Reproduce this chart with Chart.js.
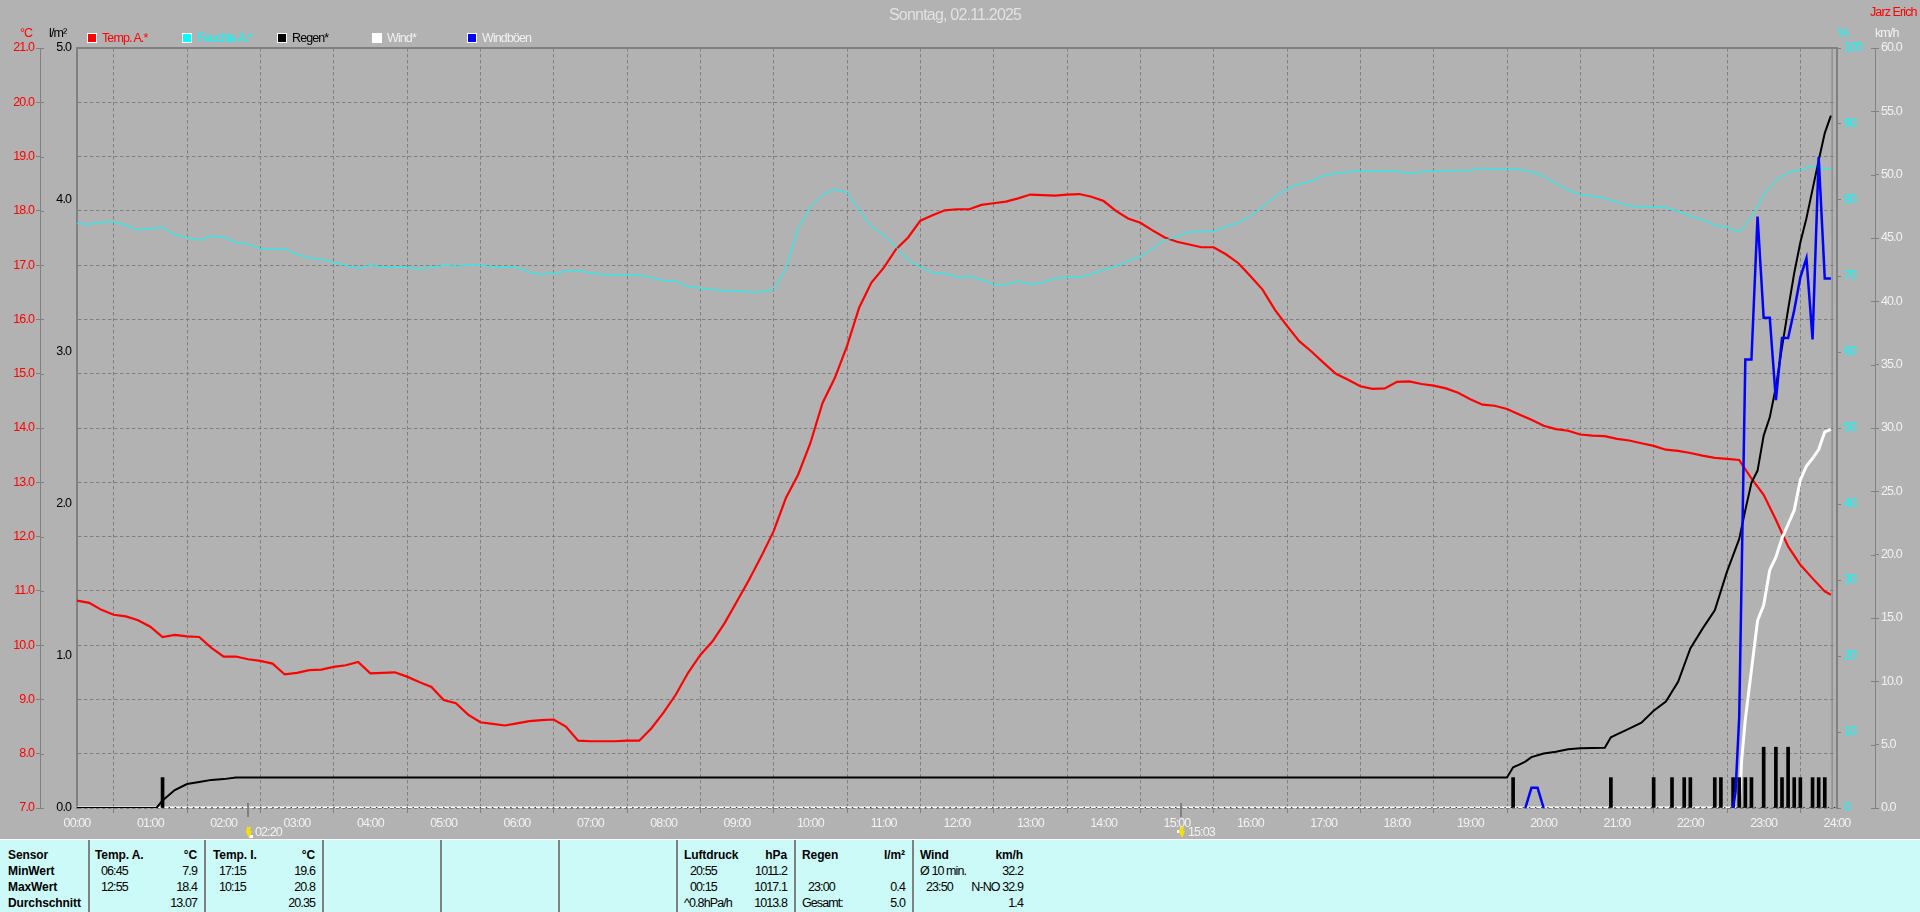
<!DOCTYPE html>
<html>
<head>
<meta charset="utf-8">
<title>Wetter 02.11.2025</title>
<script src="https://cdn.jsdelivr.net/npm/chart.js@4"></script>
<style>
    html, body { margin: 0; width: 1920px; height: 912px; overflow: hidden; background: #b2b2b2; }
    body { font-family: "Liberation Sans", sans-serif; font-size: 12.5px; letter-spacing: -0.9px; }
    canvas { position: absolute; left: 0; top: 0; }
    .lbl { position: absolute; line-height: 14px; white-space: nowrap; }
    .box { position: absolute; top: 33px; width: 8px; height: 8px; border: 1px solid #fff; }
    #stats { position: absolute; left: 0; top: 839px; width: 1920px; height: 73px; background: #ccfaf8; border-top: 1px solid #fff; box-sizing: border-box; color: #000; }
    .col { position: absolute; top: 0; height: 73px; box-sizing: border-box; border-right: 2px solid #808080; padding-top: 7px; }
    .row { display: flex; justify-content: space-between; height: 16px; line-height: 16px; white-space: nowrap; }
    .row b { font-size: 12px; letter-spacing: -0.1px; }
    .in { padding-left: 6px; }
</style>
</head>
<body>
<canvas id="chart" width="1920" height="839"></canvas>

<div class="lbl" style="left:889px;top:8px;font-size:16px;letter-spacing:-0.8px;color:#e2e2e2">Sonntag, 02.11.2025</div>
<div class="lbl" style="left:1870px;top:5px;color:#f00">Jarz Erich</div>
<div class="lbl" style="left:20px;top:26px;color:#f00">°C</div>
<div class="lbl" style="left:49px;top:26px;color:#000">l/m²</div>
<div class="lbl" style="left:1838px;top:26px;color:#0ff">%</div>
<div class="lbl" style="left:1875px;top:26px;color:#f2f2f2">km/h</div>
<div id="legend"></div>

<div id="stats"></div>

<script>
// 10 minute readings, 00:00 ... 23:50 and the last one at 23:55
const tempValues = [
    10.82, 10.78, 10.65, 10.56, 10.53, 10.46,
    10.34, 10.15, 10.19, 10.16, 10.15, 9.95,
    9.79, 9.79, 9.74, 9.71, 9.66, 9.46,
    9.49, 9.54, 9.55, 9.60, 9.63, 9.69,
    9.48, 9.49, 9.50, 9.42, 9.32, 9.23,
    8.99, 8.93, 8.72, 8.58, 8.55, 8.52,
    8.56, 8.60, 8.62, 8.63, 8.50, 8.24,
    8.23, 8.23, 8.23, 8.24, 8.24, 8.47,
    8.76, 9.09, 9.49, 9.82, 10.07, 10.41,
    10.81, 11.21, 11.64, 12.10, 12.71, 13.14,
    13.72, 14.46, 14.92, 15.51, 16.22, 16.68,
    16.95, 17.29, 17.51, 17.82, 17.92, 18.01,
    18.03, 18.03, 18.11, 18.14, 18.17, 18.23,
    18.30, 18.29, 18.28, 18.30, 18.31, 18.26,
    18.18, 18.00, 17.86, 17.78, 17.64, 17.51,
    17.43, 17.38, 17.33, 17.33, 17.20, 17.04,
    16.80, 16.55, 16.18, 15.88, 15.60, 15.41,
    15.20, 15.00, 14.89, 14.77, 14.72, 14.73,
    14.85, 14.86, 14.81, 14.78, 14.73, 14.65,
    14.53, 14.43, 14.41, 14.35, 14.25, 14.15,
    14.04, 13.98, 13.95, 13.88, 13.86, 13.85,
    13.80, 13.77, 13.72, 13.67, 13.60, 13.58,
    13.54, 13.49, 13.45, 13.43, 13.41, 13.07,
    12.77, 12.31, 11.82, 11.48, 11.23, 10.99, 10.93
];
const humidityValues = [
    76.9, 76.8, 77.1, 77.1, 76.7, 76.05,
    76.2, 76.4, 75.4, 75.1, 74.7, 75.3,
    75.1, 74.4, 74.2, 73.6, 73.6, 73.6,
    72.8, 72.4, 72.2, 71.8, 71.4, 71.0,
    71.4, 71.2, 71.2, 71.1, 71.0, 71.1,
    71.4, 71.3, 71.4, 71.4, 71.2, 71.2,
    71.1, 70.5, 70.2, 70.4, 70.6, 70.7,
    70.4, 70.2, 70.1, 70.1, 70.1, 69.8,
    69.4, 69.3, 68.6, 68.4, 68.2, 68.1,
    68.0, 67.9, 67.9, 68.2, 71.0, 76.25,
    79.1, 80.7, 81.4, 81.0, 78.7, 76.5,
    75.4, 73.8, 72.1, 71.2, 70.4, 70.3,
    69.9, 70.0, 69.5, 68.9, 68.9, 69.3,
    68.9, 69.1, 69.7, 69.8, 69.8, 70.3,
    70.8, 71.3, 72.0, 72.6, 73.6, 74.7,
    75.2, 75.8, 75.8, 75.9, 76.5, 77.0,
    77.9, 79.1, 80.4, 81.5, 82.1, 82.5,
    83.2, 83.5, 83.7, 83.8, 83.8, 83.9,
    83.8, 83.5, 83.7, 83.8, 83.9, 83.9,
    83.9, 84.2, 84.0, 84.0, 84.0, 83.7,
    83.1, 82.2, 81.3, 80.7, 80.5, 80.2,
    79.7, 79.25, 79.1, 79.1, 79.0, 78.5,
    77.9, 77.4, 76.7, 76.4, 75.75, 77.8,
    80.7, 82.6, 83.6, 84.0, 84.5, 84.1, 84.2
];

// rain sum line (l/m²)
const rainSumMinutes = [0, 65, 70, 80, 90, 100, 110, 120, 130, 1170, 1175, 1180, 1185, 1190, 1200, 1210, 1220, 1230, 1240, 1250, 1255, 1260, 1270, 1280, 1290, 1300, 1310, 1320, 1330, 1340, 1350, 1360, 1365, 1370, 1375, 1380, 1385, 1390, 1395, 1400, 1405, 1410, 1415, 1420, 1425, 1430, 1435];
const rainSumValues = [0, 0, 0.05, 0.118, 0.158, 0.171, 0.185, 0.19, 0.2, 0.2, 0.268, 0.285, 0.305, 0.335, 0.359, 0.37, 0.386, 0.393, 0.395, 0.397, 0.465, 0.485, 0.522, 0.561, 0.64, 0.70, 0.83, 1.05, 1.18, 1.30, 1.555, 1.77, 1.96, 2.14, 2.22, 2.45, 2.57, 2.77, 3.03, 3.28, 3.52, 3.72, 3.88, 4.07, 4.26, 4.44, 4.555];

// rain per 5 minutes (bars)
const rainBarMinutes = [70, 1175, 1255, 1290, 1305, 1315, 1320, 1340, 1345, 1355, 1360, 1365, 1370, 1380, 1390, 1395, 1400, 1405, 1410, 1420, 1425, 1430];
const rainBarValues = [0.2, 0.2, 0.2, 0.2, 0.2, 0.2, 0.2, 0.2, 0.2, 0.2, 0.2, 0.2, 0.2, 0.4, 0.4, 0.2, 0.4, 0.2, 0.2, 0.2, 0.2, 0.2];

const windMinutes = [0, 1360, 1362, 1365, 1370, 1375, 1380, 1385, 1390, 1395, 1400, 1405, 1410, 1415, 1420, 1425, 1430, 1435];
const windValues = [0, 0, 3.8, 7.0, 10.9, 14.8, 16.0, 18.8, 19.8, 21.3, 22.4, 23.5, 25.9, 27.0, 27.6, 28.3, 29.7, 29.9];

// null breaks the line, no gust between the two spells
const gustMinutes = [1185, 1190, 1195, 1200, 1201, 1355, 1357, 1360, 1365, 1370, 1375, 1380, 1385, 1390, 1395, 1400, 1405, 1410, 1415, 1420, 1425, 1430, 1435];
const gustValues = [0, 1.6, 1.6, 0, null, 0, 1.3, 7.2, 35.4, 35.4, 46.7, 38.7, 38.7, 32.2, 37.1, 37.1, 39.3, 41.9, 43.4, 37.0, 51.4, 41.8, 41.8];

const hourLabels = ['00:00', '01:00', '02:00', '03:00', '04:00', '05:00', '06:00', '07:00', '08:00', '09:00', '10:00', '11:00', '12:00', '13:00', '14:00', '15:00', '16:00', '17:00', '18:00', '19:00', '20:00', '21:00', '22:00', '23:00', '24:00'];
const nowMinute = 1436;
const eventMinutes = [140, 903];
const eventLabels = ['02:20', '15:03'];

const seriesNames = ['Temp. A.*', 'Feuchte A.*', 'Regen*', 'Wind*', 'Windböen'];
const boxColors = ['#f00', '#0ff', '#000', '#fff', '#00f'];
const nameColors = ['#f00', '#0ff', '#000', '#f2f2f2', '#f2f2f2'];

const statSensor = ['Sensor', 'MinWert', 'MaxWert', 'Durchschnitt'];
const statTempA = [['Temp. A.', '°C'], ['06:45', '7.9'], ['12:55', '18.4'], ['', '13.07']];
const statTempI = [['Temp. I.', '°C'], ['17:15', '19.6'], ['10:15', '20.8'], ['', '20.35']];
const statPressure = [['Luftdruck', 'hPa'], ['20:55', '1011.2'], ['00:15', '1017.1'], ['^0.8hPa/h', '1013.8']];
const statRain = [['Regen', 'l/m²'], ['', ''], ['23:00', '0.4'], ['Gesamt:', '5.0']];
const statWind = [['Wind', 'km/h'], ['Ø 10 min.', '32.2'], ['23:50', 'N-NO 32.9'], ['', '1.4']];

const gray = '#808080',
    textWhite = '#f2f2f2',
    labelFont = { family: '"Liberation Sans", sans-serif', size: 12.5 };

const slotMinute = i => i < 144 ? i * 10 : 1435;
const toPoints = (minutes, values) => minutes.map((m, i) => ({ x: m, y: values[i] }));

// fixed axis widths, the old program has its axes at fixed places
const fixWidth = w => scale => { scale.width = w; };

const tightText = {
    id: 'tightText',
    beforeDraw(chart) {
        chart.ctx.letterSpacing = '-0.9px';
    }
};

const plotFrame = {
    id: 'plotFrame',
    beforeDatasetsDraw(chart) {
        const { ctx, chartArea: a, scales } = chart;
        ctx.save();
        ctx.strokeStyle = gray;
        ctx.lineWidth = 2;
        ctx.beginPath();
        ctx.moveTo(a.left, a.top);
        ctx.lineTo(a.right, a.top);
        ctx.stroke();
        // the outer axes have ticks on both sides of the line
        ctx.fillStyle = gray;
        scales.temp.ticks.forEach(t => ctx.fillRect(scales.temp.right, Math.round(scales.temp.getPixelForValue(t.value)), 4, 1));
        scales.wind.ticks.forEach(t => ctx.fillRect(scales.wind.left - 4, Math.round(scales.wind.getPixelForValue(t.value)), 4, 1));
        ctx.restore();
    }
};

// sunrise / sunset style marks below the axis
const eventMarks = {
    id: 'eventMarks',
    afterDraw(chart) {
        const { ctx, chartArea: a } = chart;
        const dots = [[3, 836], [-2, 831]];
        ctx.save();
        eventMinutes.forEach((m, i) => {
            const x = Math.round(chart.scales.x.getPixelForValue(m));
            ctx.fillStyle = gray;
            ctx.fillRect(x - 1, a.bottom - 5, 2, 14);
            ctx.fillStyle = '#fff';
            ctx.fillRect(x + dots[i][0] - 2, dots[i][1] - 1, 4, 3);
            ctx.fillStyle = '#f5e000';
            ctx.beginPath();
            ctx.moveTo(x - 1, 827);
            ctx.lineTo(x + 3, 827);
            ctx.lineTo(x + 2, 831);
            ctx.lineTo(x + 4, 831);
            ctx.lineTo(x + 1, 838);
            ctx.lineTo(x - 2, 832);
            ctx.closePath();
            ctx.fill();
            ctx.fillStyle = textWhite;
            ctx.font = '12.5px ' + labelFont.family;
            ctx.textBaseline = 'middle';
            ctx.fillText(eventLabels[i], x + 7, 833);
        });
        ctx.restore();
    }
};

const tempData = tempValues.map((v, i) => ({ x: slotMinute(i), y: v }));
const humidityData = humidityValues.map((v, i) => ({ x: slotMinute(i), y: v }));

const lineStyle = (color, width) => ({
    type: 'line',
    borderColor: color,
    borderWidth: width,
    pointRadius: 0,
    tension: 0,
    fill: false
});

new Chart(document.getElementById('chart').getContext('2d'), {
    data: {
        datasets: [
            { ...lineStyle(gray, 1), label: 'now', data: [{ x: nowMinute, y: 0 }, { x: nowMinute, y: 100 }], yAxisID: 'hum', order: 9 },
            { ...lineStyle('#f00', 2.2), label: seriesNames[0], data: tempData, yAxisID: 'temp', order: 6 },
            { ...lineStyle('#0ff', 1), label: seriesNames[1], data: humidityData, yAxisID: 'hum', order: 5 },
            { ...lineStyle('#fff', 3), label: seriesNames[3], data: toPoints(windMinutes, windValues), yAxisID: 'wind', clip: 0, order: 4 },
            { ...lineStyle('#000', 1.5), label: 'zero dots', data: [{ x: 0, y: 0 }, { x: 1440, y: 0 }], yAxisID: 'wind', borderDash: [1.5, 4.6], clip: 0, order: 3 },
            { type: 'bar', label: 'Regen 5 min', data: toPoints(rainBarMinutes, rainBarValues), yAxisID: 'rain', backgroundColor: '#000', barThickness: 3, order: 3 },
            { ...lineStyle('#000', 2), label: seriesNames[2], data: toPoints(rainSumMinutes, rainSumValues), yAxisID: 'rain', order: 2 },
            { ...lineStyle('#00f', 2.5), label: seriesNames[4], data: toPoints(gustMinutes, gustValues), yAxisID: 'wind', order: 1 }
        ]
    },
    options: {
        responsive: false,
        animation: false,
        devicePixelRatio: 1,
        layout: { autoPadding: false, padding: { top: 48, bottom: 0, left: 0, right: 0 } },
        plugins: { legend: { display: false }, tooltip: { enabled: false } },
        scales: {
            x: {
                type: 'linear',
                min: 0,
                max: 1440,
                offset: false,
                afterFit: scale => { scale.height = 31; },
                grid: { color: gray, tickColor: gray, tickLength: 5 },
                border: { display: false, dash: [3.5, 2.5] },
                ticks: {
                    stepSize: 60,
                    autoSkip: false,
                    maxRotation: 0,
                    padding: 3,
                    color: textWhite,
                    font: labelFont,
                    callback: v => hourLabels[v / 60]
                }
            },
            temp: {
                position: 'left',
                weight: 1,
                min: 7,
                max: 21,
                afterFit: fixWidth(40),
                grid: { color: gray, tickColor: gray, tickLength: 4 },
                border: { color: gray, width: 1, dash: [3.5, 2.5] },
                ticks: { stepSize: 1, padding: 2, color: '#f00', font: labelFont, autoSkip: false, callback: v => v.toFixed(1) }
            },
            rain: {
                position: 'left',
                weight: 0,
                min: 0,
                max: 5,
                afterFit: fixWidth(37),
                grid: { drawOnChartArea: false, drawTicks: false },
                border: { color: gray, width: 2 },
                ticks: { stepSize: 1, padding: 6, color: '#000', font: labelFont, callback: v => v.toFixed(1) }
            },
            hum: {
                position: 'right',
                weight: 0,
                min: 0,
                max: 100,
                afterFit: fixWidth(38),
                grid: { drawOnChartArea: false, color: gray, tickLength: 4 },
                border: { color: gray, width: 2 },
                ticks: { stepSize: 10, padding: 3, color: '#0ff', font: labelFont }
            },
            wind: {
                position: 'right',
                weight: 1,
                min: 0,
                max: 60,
                afterFit: fixWidth(45),
                grid: { drawOnChartArea: false, color: gray, tickLength: 4 },
                border: { color: gray, width: 1 },
                ticks: { stepSize: 5, padding: 2, color: textWhite, font: labelFont, callback: v => v.toFixed(1) }
            }
        }
    },
    plugins: [tightText, plotFrame, eventMarks]
});

// legend
const legend = document.getElementById('legend');
seriesNames.forEach((name, i) => {
    const left = 87 + i * 95;
    legend.insertAdjacentHTML('beforeend',
        `<div class="box" style="left:${left}px;background:${boxColors[i]}"></div>` +
        `<div class="lbl" style="left:${left + 15}px;top:31px;color:${nameColors[i]}">${name}</div>`);
});

// table below the chart
const stats = document.getElementById('stats');
function addColumn(left, width, padLeft, padRight, rows, indent) {
    const html = rows.map((r, i) => {
        const a = Array.isArray(r) ? r[0] : r,
            b = Array.isArray(r) ? r[1] : '',
            head = i === 0 || !Array.isArray(r),
            isTime = /^\d\d:\d\d$/.test(a) && indent;
        return `<div class="row"><span class="${isTime ? 'in' : ''}">${head ? `<b>${a}</b>` : a}</span><span>${head ? `<b>${b}</b>` : b}</span></div>`;
    }).join('');
    stats.insertAdjacentHTML('beforeend',
        `<div class="col" style="left:${left}px;width:${width}px;padding-left:${padLeft}px;padding-right:${padRight}px">${html}</div>`);
}
addColumn(0, 90, 8, 0, statSensor, false);
addColumn(90, 116, 5, 7, statTempA, true);
addColumn(206, 118, 7, 7, statTempI, true);
addColumn(324, 118, 0, 0, [], false);
addColumn(442, 118, 0, 0, [], false);
addColumn(560, 118, 0, 0, [], false);
addColumn(678, 118, 6, 7, statPressure, true);
addColumn(796, 118, 6, 7, statRain, true);
addColumn(914, 109, 6, 0, statWind, true);
stats.lastElementChild.style.borderRight = 'none';
</script>
</body>
</html>
